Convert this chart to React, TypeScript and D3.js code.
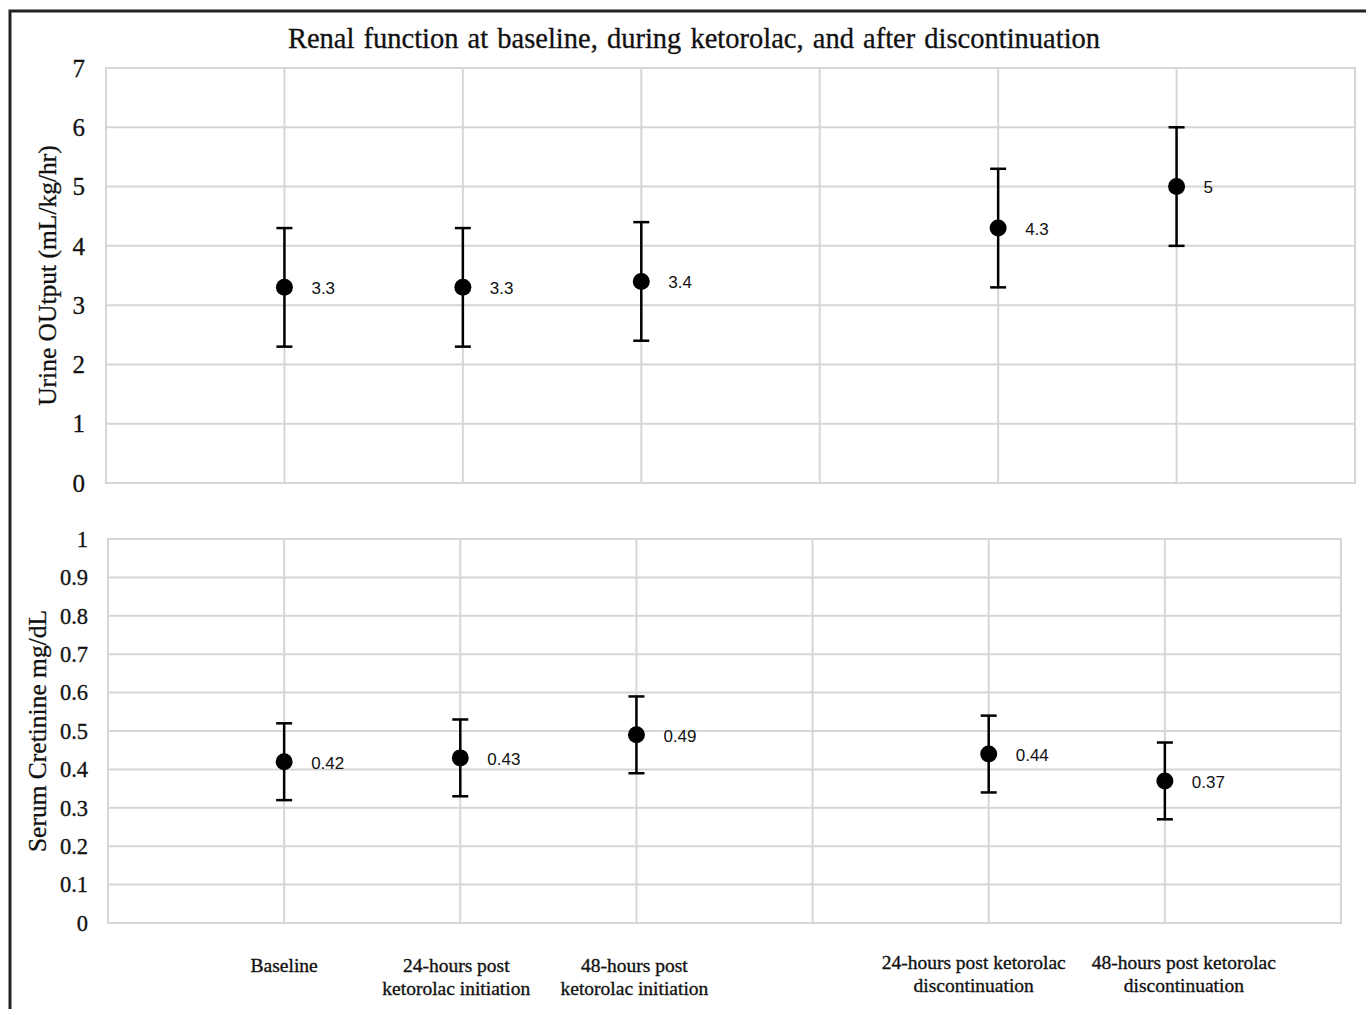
import * as React from 'react'
import * as d3 from 'd3'

const categories = [
  'Baseline',
  '24-hours post|ketorolac initiation',
  '48-hours post|ketorolac initiation',
  '24-hours post ketorolac|discontinuation',
  '48-hours post ketorolac|discontinuation',
]
// x positions on the 0..7 value axis (slot 4 left empty)
const positions = [1, 2, 3, 5, 6]
const gridX = [1, 2, 3, 4, 5, 6]

const urineValues = [3.3, 3.3, 3.4, 4.3, 5]
const urineError = [1, 1, 1, 1, 1]
const urineTicks = [0, 1, 2, 3, 4, 5, 6, 7]

const creatValues = [0.42, 0.43, 0.49, 0.44, 0.37]
const creatError = [0.1, 0.1, 0.1, 0.1, 0.1]
const creatTicks = [0, 0.1, 0.2, 0.3, 0.4, 0.5, 0.6, 0.7, 0.8, 0.9, 1]

const labelShift = [0, -4, -2, -15, 19]

const SERIF = '"Liberation Serif", "Times New Roman", serif'
const SANS = '"Liberation Sans", Arial, sans-serif'
const GRID = '#d6d6d6'
const INK = '#111'

interface PanelProps {
  left: number
  right: number
  top: number
  bottom: number
  domain: [number, number]
  ticks: number[]
  values: number[]
  errors: number[]
  fmt: (v: number) => string
  tickSize: number
  tickX: number
  label: string
  labelX: number
}

function Panel({ left, right, top, bottom, domain, ticks, values, errors, fmt, tickSize, tickX, label, labelX }: PanelProps) {
  const x = d3.scaleLinear().domain([0, 7]).range([left, right])
  const y = d3.scaleLinear().domain(domain).range([bottom, top])
  const cap = 8
  return (
    <g>
      {ticks.map(t => (
        <line key={'h' + t} x1={left} x2={right} y1={y(t)} y2={y(t)} stroke={GRID} strokeWidth={2} />
      ))}
      {gridX.map(g => (
        <line key={'v' + g} x1={x(g)} x2={x(g)} y1={top} y2={bottom} stroke={GRID} strokeWidth={2} />
      ))}
      <rect x={left} y={top} width={right - left} height={bottom - top} fill="none" stroke={GRID} strokeWidth={2} />
      {ticks.map(t => (
        <text key={'t' + t} x={tickX} y={y(t)} dy="0.35em" textAnchor="end" fontFamily={SERIF} fontSize={tickSize} fill={INK} stroke={INK} strokeWidth={0.3}>
          {d3.format('~g')(t)}
        </text>
      ))}
      <text
        transform={`translate(${labelX}, ${(top + bottom) / 2}) rotate(-90)`}
        textAnchor="middle"
        dy="0.35em"
        fontFamily={SERIF}
        fontSize={25.5}
        fill={INK}
        stroke={INK}
        strokeWidth={0.3}
      >
        {label}
      </text>
      {values.map((v, i) => {
        const cx = x(positions[i])
        const lo = y(v - errors[i])
        const hi = y(v + errors[i])
        return (
          <g key={'p' + i}>
            <line x1={cx} x2={cx} y1={lo} y2={hi} stroke="#000" strokeWidth={2.5} />
            <line x1={cx - cap} x2={cx + cap} y1={lo} y2={lo} stroke="#000" strokeWidth={2.5} />
            <line x1={cx - cap} x2={cx + cap} y1={hi} y2={hi} stroke="#000" strokeWidth={2.5} />
            <circle cx={cx} cy={y(v)} r={8.5} fill="#000" />
            <text x={cx + 27} y={y(v)} dy="0.4em" fontFamily={SANS} fontSize={17} fill={INK}>
              {fmt(v)}
            </text>
          </g>
        )
      })}
    </g>
  )
}

export default function App() {
  const xBottom = d3.scaleLinear().domain([0, 7]).range([108, 1341])
  return (
    <svg
      width={1366}
      height={1009}
      style={{ position: 'absolute', left: 0, top: 0, background: '#fff' }}
    >
      <rect x={0} y={0} width={1366} height={1009} fill="#fff" />
      <path d="M10,1009 V11 H1366" fill="none" stroke="#222" strokeWidth={3} />
      <text x={694} y={48} textAnchor="middle" fontFamily={SERIF} fontSize={28.5} fill={INK} stroke={INK} strokeWidth={0.3} wordSpacing={2}>
        Renal function at baseline, during ketorolac, and after discontinuation
      </text>
      <Panel
        left={106}
        right={1355}
        top={68}
        bottom={483}
        domain={[0, 7]}
        ticks={urineTicks}
        values={urineValues}
        errors={urineError}
        fmt={d3.format('~g')}
        tickSize={25}
        tickX={85}
        label="Urine OUtput (mL/kg/hr)"
        labelX={47}
      />
      <Panel
        left={108}
        right={1341}
        top={539}
        bottom={923}
        domain={[0, 1]}
        ticks={creatTicks}
        values={creatValues}
        errors={creatError}
        fmt={d3.format('.2f')}
        tickSize={22.5}
        tickX={88}
        label="Serum Cretinine mg/dL"
        labelX={37}
      />
      {categories.map((c, i) => {
        const lines = c.split('|')
        const cx = xBottom(positions[i]) + labelShift[i]
        const y0 = i < 3 ? 972 : 969
        return (
          <text key={c} textAnchor="middle" fontFamily={SERIF} fontSize={19.5} fill={INK} stroke={INK} strokeWidth={0.35}>
            {lines.map((l, j) => (
              <tspan key={j} x={cx} y={y0 + j * 23}>
                {l}
              </tspan>
            ))}
          </text>
        )
      })}
    </svg>
  )
}
